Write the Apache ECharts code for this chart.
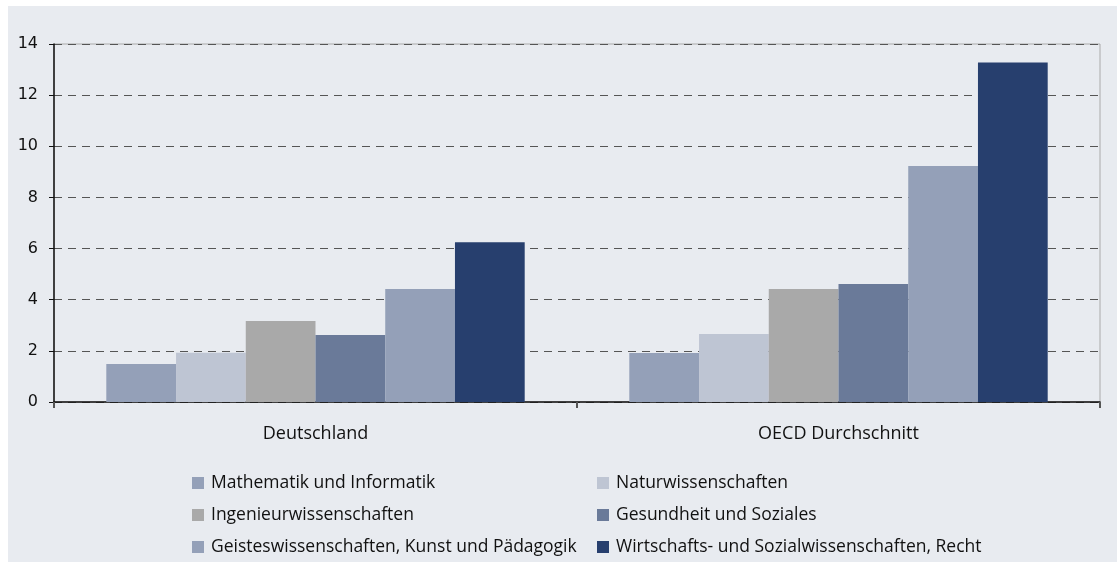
<!DOCTYPE html>
<html><head><meta charset="utf-8">
<script src="https://cdn.jsdelivr.net/npm/echarts@6/dist/echarts.min.js"></script>
<style>
html,body{margin:0;padding:0;background:#fff;}
#c{position:absolute;left:8px;top:6px;width:1109px;height:556px;}
</style></head>
<body><div id="c"></div>
<script>
const categories = ['Deutschland', 'OECD Durchschnitt'];
const seriesNames = ['Mathematik und Informatik', 'Naturwissenschaften', 'Ingenieurwissenschaften', 'Gesundheit und Soziales', 'Geisteswissenschaften, Kunst und Pädagogik', 'Wirtschafts- und Sozialwissenschaften, Recht'];
const mathe = [1.49, 1.92];
const natur = [1.93, 2.66];
const ingenieur = [3.17, 4.42];
const gesundheit = [2.62, 4.61];
const geistes = [4.42, 9.23];
const wirtschaft = [6.25, 13.28];
const colors = ['#94a0b8', '#bec5d3', '#a9a9a9', '#6a7a99', '#94a0b8', '#273f6e'];
const values = [mathe, natur, ingenieur, gesundheit, geistes, wirtschaft];

const chart = echarts.init(document.getElementById('c'));
const legendText = {fontFamily: 'Open Sans', fontSize: 17.5, color: '#111', padding: [0, 0, 0, 2]};
chart.setOption({
  backgroundColor: '#e8ebf0',
  animation: false,
  grid: {left: 46, right: 17, top: 38, bottom: 160, show: true, borderColor: '#aaaaaa', borderWidth: 1, backgroundColor: 'transparent'},
  legend: [
    {data: [seriesNames[0], seriesNames[2], seriesNames[4]], orient: 'vertical', left: 179, top: 463, icon: 'rect', itemWidth: 12, itemHeight: 12, itemGap: 14, textStyle: legendText},
    {data: [seriesNames[1], seriesNames[3], seriesNames[5]], orient: 'vertical', left: 584, top: 463, icon: 'rect', itemWidth: 12, itemHeight: 12, itemGap: 14, textStyle: legendText}
  ],
  xAxis: {
    type: 'category', data: categories,
    axisLine: {lineStyle: {color: '#111', width: 1.5}},
    axisTick: {show: true, length: 6, lineStyle: {color: '#555', width: 2}},
    axisLabel: {fontFamily: 'Open Sans', fontSize: 18, color: '#111', margin: 23}
  },
  yAxis: {
    type: 'value', min: 0, max: 14, interval: 2,
    axisLine: {show: true, lineStyle: {color: '#111', width: 1.5}},
    axisTick: {show: true, length: 5, lineStyle: {color: '#111'}},
    axisLabel: {fontFamily: 'DejaVu Sans', fontSize: 16, color: '#111', margin: 16},
    splitLine: {show: true, lineStyle: {color: '#555', type: [8, 6], width: 1}}
  },
  series: seriesNames.map((n, i) => ({
    name: n, type: 'bar', data: values[i],
    barGap: '0%', barCategoryGap: '20%',
    itemStyle: {color: colors[i]}
  }))
});
</script></body></html>
